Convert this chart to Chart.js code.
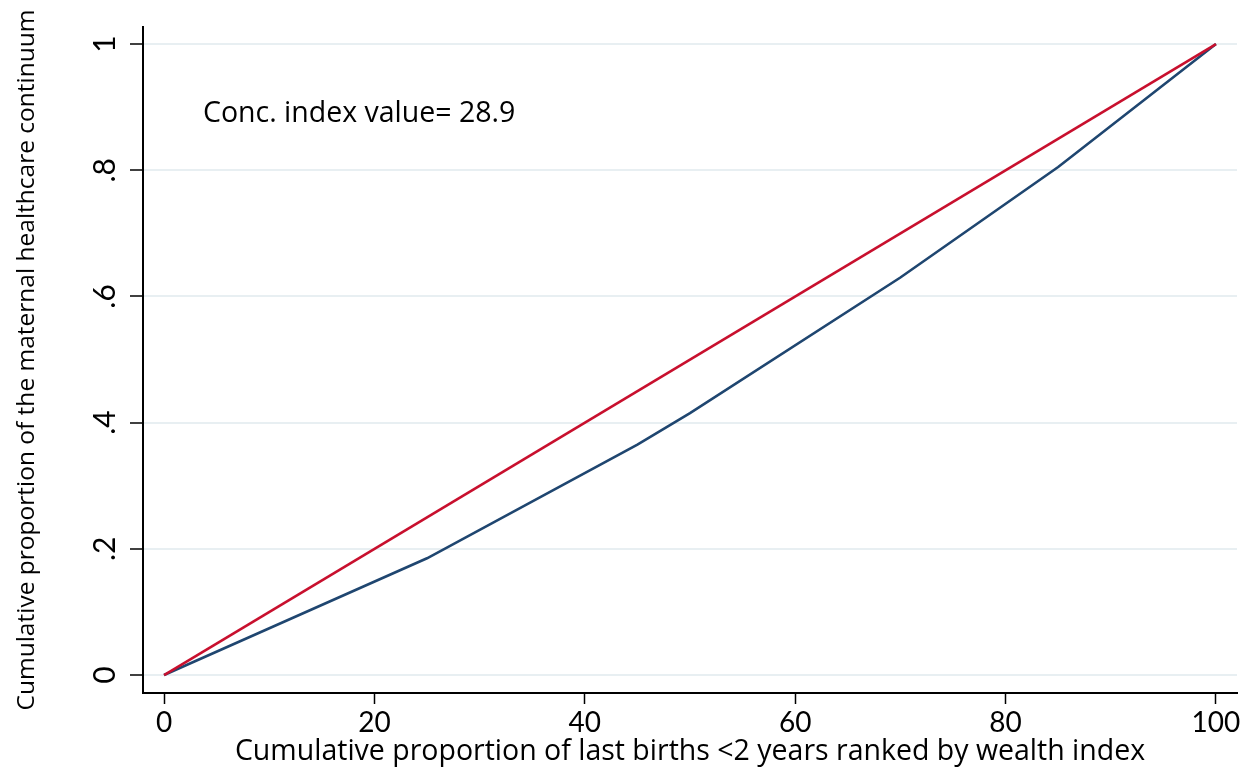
<!DOCTYPE html>
<html>
<head>
<meta charset="utf-8">
<script src="https://cdn.jsdelivr.net/npm/chart.js@4/dist/chart.umd.min.js"></script>
<style>
  html, body { margin:0; padding:0; background:#fff; }
  #wrap { width:1252px; height:769px; position:relative; }
</style>
</head>
<body>
<div id="wrap"><canvas id="conc-canvas"></canvas></div>
<script>
// cumulative share of births (x, %) and of the maternal healthcare continuum (y)
const curveX   = [0, 25, 45, 50, 70, 85, 100];
const curveY   = [0, 0.185, 0.365, 0.415, 0.63, 0.805, 1];
const equalX   = [0, 100];
const equalY   = [0, 1];
const xTicks   = [0, 20, 40, 60, 80, 100];
const yTicks   = [0, 0.2, 0.4, 0.6, 0.8, 1];
const yTickTxt = ['0', '.2', '.4', '.6', '.8', '1'];
const noteText = 'Conc. index value= 28.9';
const noteAt   = { x: 3.7, y: 0.89 };

const FONT  = "Lato, 'Open Sans', sans-serif";
const TFONT = "'Open Sans', Lato, sans-serif";
const toPts = (xs, ys) => xs.map((x, i) => ({ x, y: ys[i] }));

// y tick labels are rotated (Stata style), so they are painted by hand from the scale
const yLabels = {
  id: 'yLabels',
  afterDraw(chart) {
    const { ctx, scales: { x, y } } = chart;
    ctx.save();
    ctx.fillStyle = '#000';
    ctx.font = `30px ${FONT}`;
    ctx.textAlign = 'center';
    ctx.textBaseline = 'alphabetic';
    yTicks.forEach((v, i) => {
      const py = y.getPixelForValue(v);
      ctx.save();
      ctx.translate(y.right - 28, py);
      ctx.rotate(-Math.PI / 2);
      ctx.fillText(yTickTxt[i], 0, 0);
      ctx.restore();
    });
    ctx.font = `28.5px ${TFONT}`;
    ctx.textAlign = 'left';
    ctx.textBaseline = 'middle';
    ctx.fillText(noteText, x.getPixelForValue(noteAt.x), y.getPixelForValue(noteAt.y));
    ctx.restore();
  }
};

new Chart(document.getElementById('conc-canvas'), {
  type: 'scatter',
  data: {
    datasets: [
      { label: 'Equality', data: toPts(equalX, equalY), showLine: true,
        borderColor: '#c8102e', borderWidth: 2.6, pointRadius: 0, tension: 0 },
      { label: 'Concentration curve', data: toPts(curveX, curveY), showLine: true,
        borderColor: '#1f4670', borderWidth: 2.6, pointRadius: 0, tension: 0 }
    ]
  },
  options: {
    responsive: true, maintainAspectRatio: false,
    animation: false,
    layout: { padding: { top: 27, right: 15, left: 0, bottom: 0 } },
    plugins: { legend: { display: false }, tooltip: { enabled: false } },
    scales: {
      x: {
        type: 'linear', min: -2, max: 102,
        afterBuildTicks: s => { s.ticks = xTicks.map(v => ({ value: v })); },
        afterFit: s => { s.height = 76; },
        border: { color: '#000', width: 2 },
        grid: { drawOnChartArea: false, drawTicks: true, tickLength: 11, tickColor: '#000', tickWidth: 1.5 },
        ticks: { color: '#000', font: { family: FONT, size: 28 }, padding: 2, maxRotation: 0 },
        title: { display: true, text: 'Cumulative proportion of last births <2 years ranked by wealth index',
                 color: '#000', font: { family: TFONT, size: 28.5 }, padding: { top: -1, bottom: 0 } }
      },
      y: {
        type: 'linear', min: -0.0285, max: 1.027,
        afterBuildTicks: s => { s.ticks = yTicks.map(v => ({ value: v })); },
        afterFit: s => { s.width = 143; },
        border: { color: '#000', width: 2 },
        grid: { color: '#e8eff2', lineWidth: 2, drawTicks: true, tickLength: 13, tickColor: '#000', tickWidth: 1.5 },
        ticks: { display: false },
        title: { display: true, text: 'Cumulative proportion of the maternal healthcare continuum',
                 color: '#000', font: { family: TFONT, size: 24.5 }, padding: { top: 12, bottom: 0 } }
      }
    }
  },
  plugins: [yLabels]
});
</script>
</body>
</html>
